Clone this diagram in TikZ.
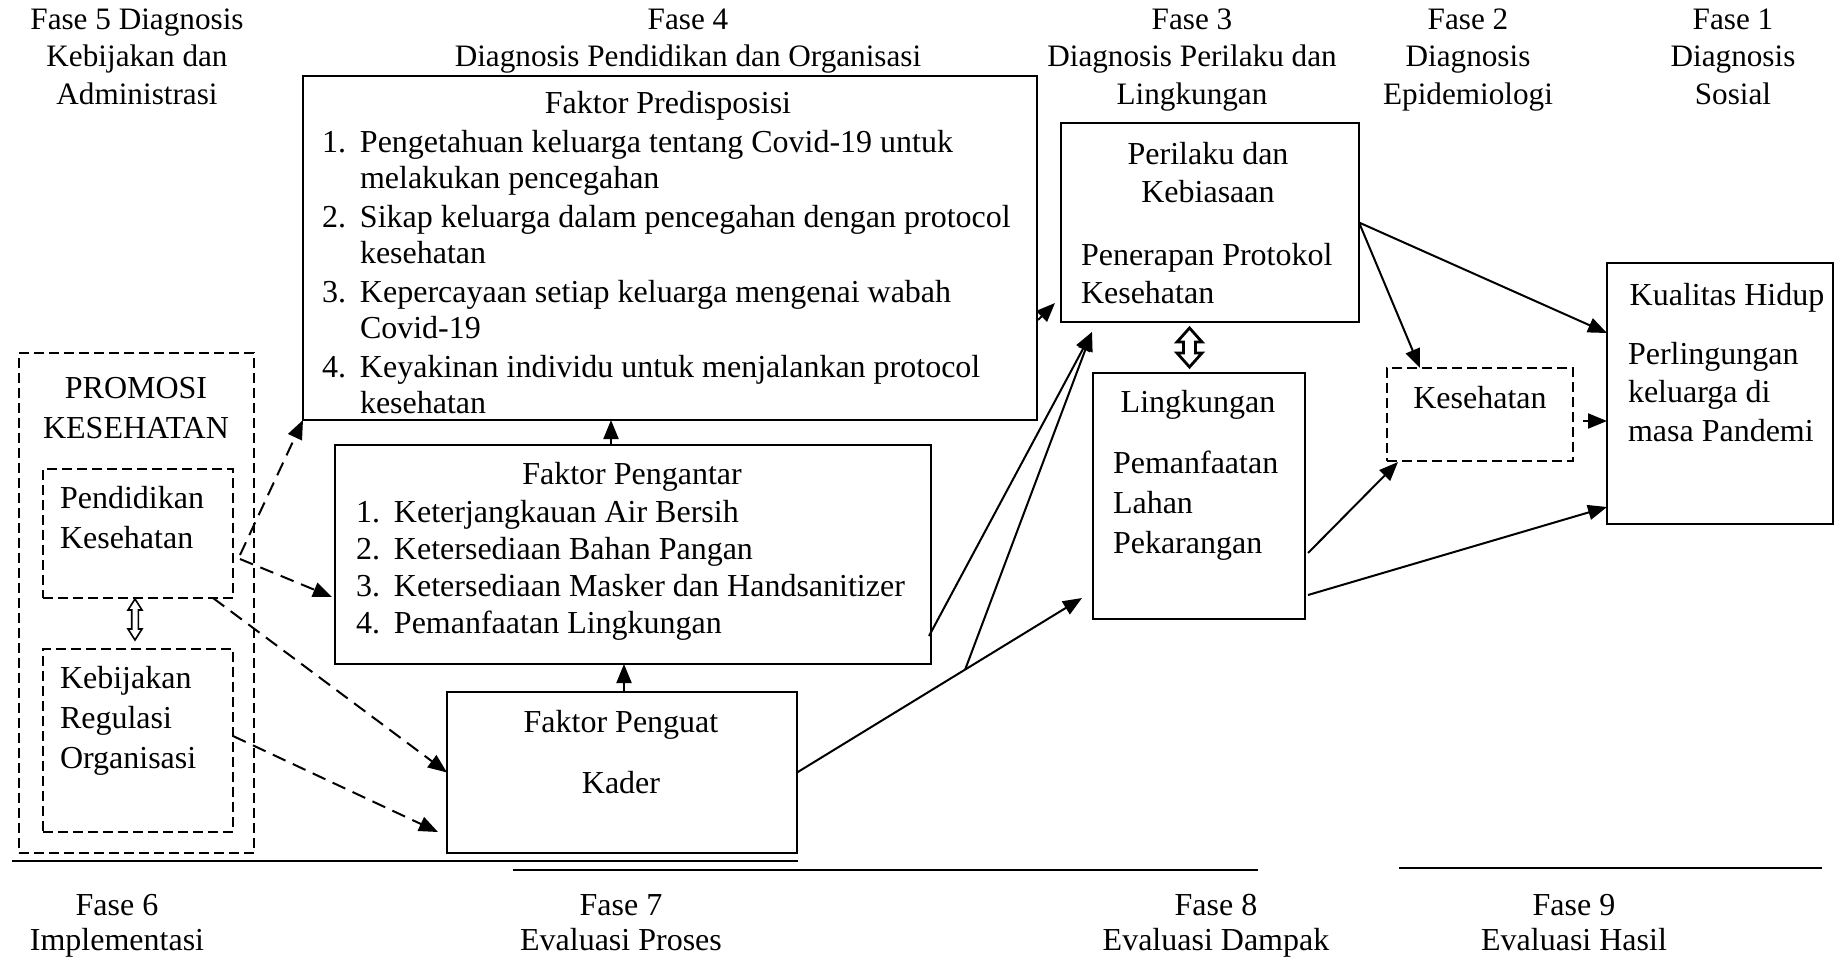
\documentclass[tikz,border=0pt]{standalone}
\usepackage{fontspec}
\setmainfont{Liberation Serif}
\usetikzlibrary{calc,arrows.meta}
\newcommand\mycent[1]{\begin{tabular}[t]{@{}c@{}}#1\end{tabular}}
\newcommand\myleft[1]{\begin{tabular}[t]{@{}l@{}}#1\end{tabular}}
\newcommand\num[1]{\makebox[19pt][l]{#1}}
\newcommand\ind{\hspace*{19pt}}
\begin{document}
\begin{tikzpicture}[x=0.5pt,y=-0.5pt,
  every node/.style={font=\fontsize{16}{18}\selectfont, inner sep=0pt, outer sep=0pt},
  box/.style={draw, line width=0.8pt, rectangle, inner sep=0pt, outer sep=0pt},
  dbox/.style={box, line width=0.6pt, dash pattern=on 5pt off 2.5pt},
  txt/.style={anchor=base},
  ltxt/.style={anchor=base west},
  hdr/.style={anchor=base, font=\fontsize{15.6}{18.75}\selectfont},
  ftr/.style={anchor=base, font=\fontsize{16}{17.5}\selectfont},
  arr/.style={line width=1pt, -{Triangle[length=9.5pt,width=7.5pt]}},
  darr/.style={arr, dash pattern=on 7pt off 4pt},
  hollow/.style={line width=1.4pt, fill=white, line join=miter},
  thinhollow/.style={line width=0.8pt, fill=white, line join=miter},
  sep/.style={line width=1pt}
]
\useasboundingbox (0,0) rectangle (1840,958);

% ---------- headers ----------
\node[hdr] (h5) at (137,29) {\mycent{Fase 5 Diagnosis\\Kebijakan dan\\Administrasi}};
\node[hdr] (h4) at (688,29) {\mycent{Fase 4\\Diagnosis Pendidikan dan Organisasi}};
\node[hdr] (h3) at (1192,29) {\mycent{Fase 3\\Diagnosis Perilaku dan\\Lingkungan}};
\node[hdr] (h2) at (1468,29) {\mycent{Fase 2\\Diagnosis\\Epidemiologi}};
\node[hdr] (h1) at (1733,29) {\mycent{Fase 1\\Diagnosis\\Sosial}};

% ---------- boxes ----------
\node[box, minimum width=367pt, minimum height=172pt] (pred) at (670,248) {};
\node[box, minimum width=298pt, minimum height=109.5pt] (pengantar) at (633,554.5) {};
\node[box, minimum width=175pt, minimum height=80.5pt] (penguat) at (622,772.5) {};
\node[box, minimum width=149pt, minimum height=99.5pt] (perilaku) at (1210,222.5) {};
\node[box, minimum width=106pt, minimum height=123pt] (lingk) at (1199,496) {};
\node[dbox, minimum width=93pt, minimum height=46.5pt] (keseh) at (1480,414.5) {};
\node[box, minimum width=113pt, minimum height=130.5pt] (kualitas) at (1720,393.5) {};
\node[dbox, minimum width=117.5pt, minimum height=250pt] (promosi) at (136.5,603) {};
\node[dbox, minimum width=95pt, minimum height=64.5pt] (pendidikan) at (138,533.5) {};
\node[dbox, minimum width=95pt, minimum height=91.5pt] (kebijakan) at (138,740.5) {};

% ---------- box texts ----------
\node[txt] (predT) at (668,113) {Faktor Predisposisi};
\node[ltxt] (predL) at (322,152) {\myleft{%
\num{1.}Pengetahuan keluarga tentang Covid-19 untuk\\
\ind melakukan pencegahan\\[1.5pt]
\num{2.}Sikap keluarga dalam pencegahan dengan protocol\\
\ind kesehatan\\[1.5pt]
\num{3.}Kepercayaan setiap keluarga mengenai wabah\\
\ind Covid-19\\[1.5pt]
\num{4.}Keyakinan individu untuk menjalankan protocol\\
\ind kesehatan}};

\node[txt] (pengT) at (632,484) {Faktor Pengantar};
\node[ltxt] (pengL) at (356,522) {\myleft{%
\num{1.}Keterjangkauan Air Bersih\\[0.5pt]
\num{2.}Ketersediaan Bahan Pangan\\[0.5pt]
\num{3.}Ketersediaan Masker dan Handsanitizer\\[0.5pt]
\num{4.}Pemanfaatan Lingkungan}};

\node[txt] (pgT) at (621,732) {Faktor Penguat};
\node[txt] (pgK) at (621,793) {Kader};

\node[txt] (perT) at (1208,164) {\mycent{Perilaku dan\\[1pt]Kebiasaan}};
\node[ltxt] (perL) at (1081,265) {\myleft{Penerapan Protokol\\[1pt]Kesehatan}};

\node[txt] (lkT) at (1198,412) {Lingkungan};
\node[ltxt] (lkL) at (1113,473) {\myleft{Pemanfaatan\\[2pt]Lahan\\[2pt]Pekarangan}};

\node[txt] (ksT) at (1480,408) {Kesehatan};

\node[txt] (kqT) at (1727,305) {Kualitas Hidup};
\node[ltxt] (kqL) at (1628,364) {\myleft{Perlingungan\\[1.25pt]keluarga di\\[1.25pt]masa Pandemi}};

\node[txt] (prT) at (136,398) {\mycent{PROMOSI\\[2pt]KESEHATAN}};
\node[ltxt] (pdT) at (60,508) {\myleft{Pendidikan\\[2pt]Kesehatan}};
\node[ltxt] (kbT) at (60,688) {\myleft{Kebijakan\\[2pt]Regulasi\\[2pt]Organisasi}};

% ---------- footers ----------
\node[ftr] (f6) at (117,915) {\mycent{Fase 6\\Implementasi}};
\node[ftr] (f7) at (621,915) {\mycent{Fase 7\\Evaluasi Proses}};
\node[ftr] (f8) at (1216,915) {\mycent{Fase 8\\Evaluasi Dampak}};
\node[ftr] (f9) at (1574,915) {\mycent{Fase 9\\Evaluasi Hasil}};

\draw[sep] (12,861) -- (798,861);
\draw[sep] (513,870) -- (1258,870);
\draw[sep] (1399,868) -- (1822,868);

% ---------- dashed connectors ----------
\draw[darr] ($(pendidikan.east)+(7,21.5)$) -- (pred.south west);
\draw[darr] ($(pendidikan.east)+(7,25.5)$) -- ($(pengantar.west)+(-3,42.5)$);
\draw[darr] ($(pendidikan.south east)+(-20,0)$) -- (penguat.west);
\draw[darr] ($(kebijakan.east)+(0,-4.5)$) -- ($(penguat.south west)+(-9,-21)$);

% ---------- solid connectors ----------
\draw[arr] ([xshift=-11pt]pengantar.north) -- ([xshift=-11pt]pengantar.north |- pred.south);
\draw[arr] ([xshift=1pt]penguat.north) -- ([xshift=1pt]penguat.north |- pengantar.south);
\draw[arr] ($(pred.east)+(1,72)$) -- ($(perilaku.west)+(-6,80.5)$);

\coordinate (lkTip) at ($(lingk.west)+(-11,102)$);
\coordinate (plTip) at ($(perilaku.south west)+(31,10)$);
\coordinate (branch) at ($(penguat.east)!0.59!(lkTip)$);
\draw[arr] (penguat.east) -- (lkTip);
\draw[arr] (branch) -- (plTip);
\draw[arr] ($(pengantar.east)+(-2,81.5)$) -- (plTip);

\draw[arr] (perilaku.east) -- ($(kualitas.west)+(0,-60.5)$);
\draw[arr] (perilaku.east) -- ($(keseh.north west)+(33,0)$);
\draw[arr] ($(lingk.east)+(3,57)$) -- ($(keseh.south west)+(11,1)$);
\draw[arr] ($(lingk.east)+(3,99)$) -- ($(kualitas.west)+(0,113.5)$);
\draw[arr] ($(keseh.east)+(10,6.5)$) -- ($(kualitas.west)+(0,27.5)$);

% ---------- two-way block arrows ----------
\coordinate (dbl1) at ($($(perilaku.south)!0.5!(lingk.north)$)+(-15,0)$);
\draw[hollow] (dbl1) ++(0,-19.5) -- ++(12.5,14) -- ++(-6.5,0) -- ++(0,11) -- ++(6.5,0)
  -- ++(-12.5,14) -- ++(-12.5,-14) -- ++(6.5,0) -- ++(0,-11) -- ++(-6.5,0) -- cycle;
\coordinate (dbl2) at ($($(pendidikan.south)!0.5!(kebijakan.north)$)+(-3,-4)$);
\draw[thinhollow] (dbl2) ++(0,-20.5) -- ++(7,11) -- ++(-3.7,0) -- ++(0,19) -- ++(3.7,0)
  -- ++(-7,11) -- ++(-7,-11) -- ++(3.7,0) -- ++(0,-19) -- ++(-3.7,0) -- cycle;
\end{tikzpicture}
\end{document}
